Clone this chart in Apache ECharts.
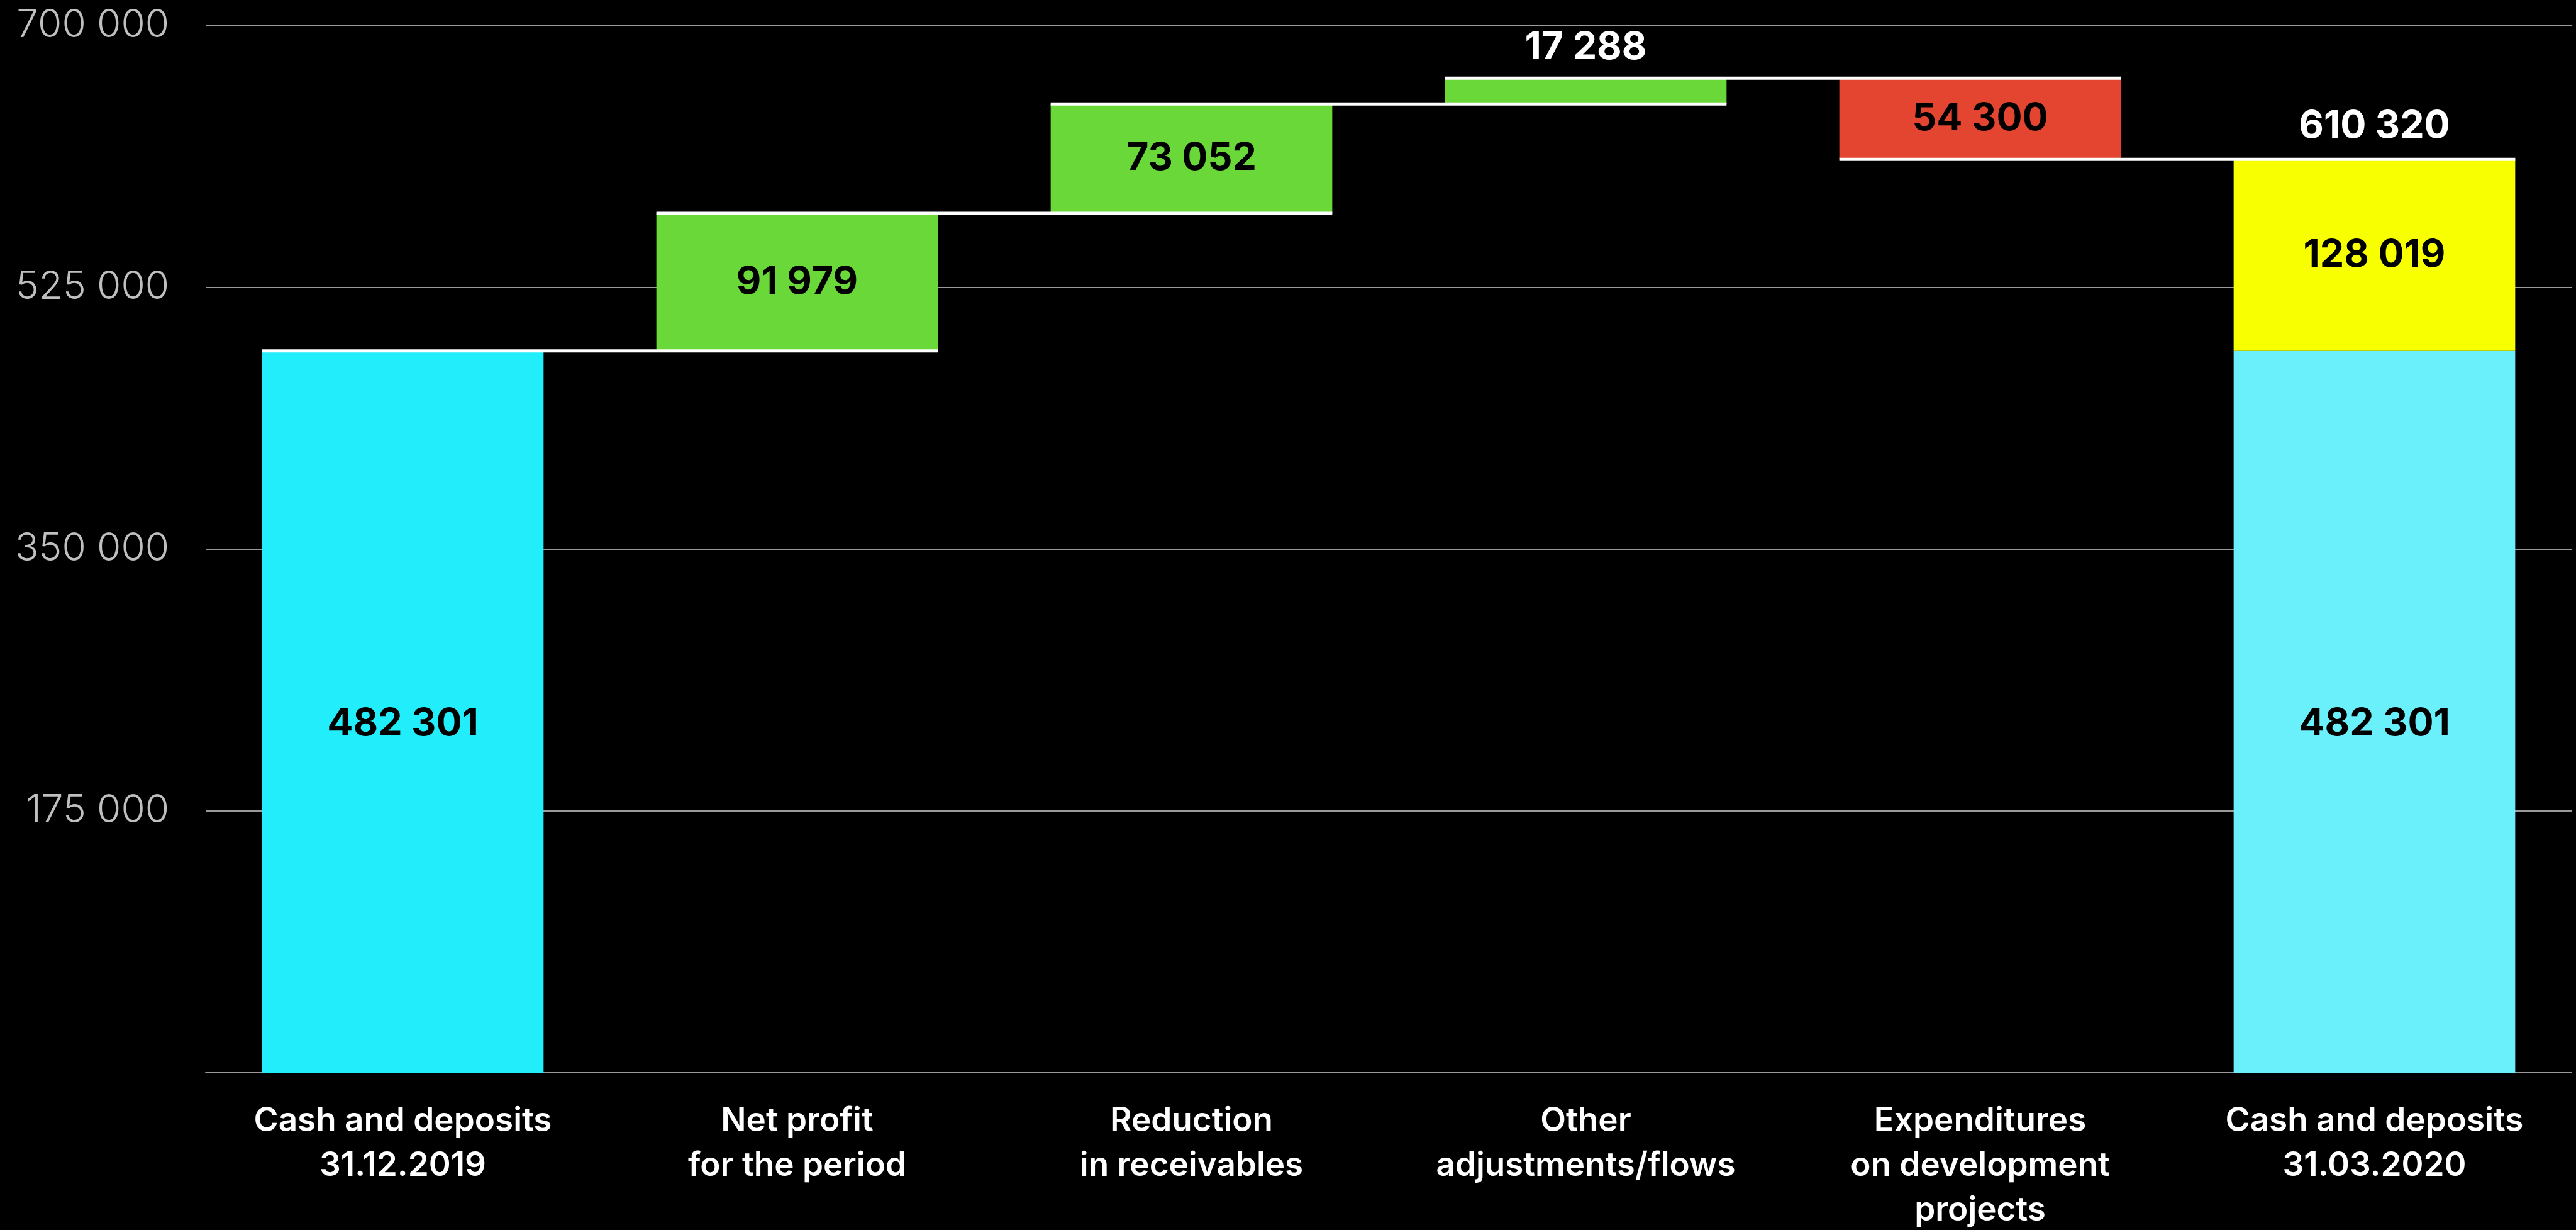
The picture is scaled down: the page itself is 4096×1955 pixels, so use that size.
<!DOCTYPE html>
<html>
<head>
<meta charset="utf-8">
<title>Cash and deposits bridge</title>
<script src="https://cdn.jsdelivr.net/npm/echarts@6/dist/echarts.min.js"></script>
<style>
  html, body { margin: 0; padding: 0; background: #000; }
  #chart { width: 4096px; height: 1955px; }
</style>
</head>
<body>
<div id="chart"></div>
<script>
// Category labels along the bottom axis
const categories = [
  'Cash and deposits\n31.12.2019',
  'Net profit\nfor the period',
  'Reduction\nin receivables',
  'Other\nadjustments/flows',
  'Expenditures\non development\nprojects',
  'Cash and deposits\n31.03.2020'
];

// Opening balance and the movements that follow it
const openingBalance = 482301;
const movements = [91979, 73052, 17288, -54300];

// Closing balance, split into the opening part and the net change
const closingParts = [482301, 128019];
const closingTotal = 610320;

// Value axis ticks
const yTicks = [0, 175000, 350000, 525000, 700000];

const FONT = 'Inter';
const BAR_RATIO = 0.714;
const fmt = v => String(Math.round(Math.abs(v))).replace(/\B(?=(\d{3})+(?!\d))/g, ' ');

// Running totals -> invisible offsets, rises and falls
const n = categories.length;
const helper = new Array(n).fill('-');
const opening = new Array(n).fill('-');
const rises = new Array(n).fill('-');
const falls = new Array(n).fill('-');
const closeBase = new Array(n).fill('-');
const closeDelta = new Array(n).fill('-');
const levels = []; // [category index, running total] for connector lines

let running = openingBalance;
helper[0] = 0;
opening[0] = openingBalance;
levels.push([0, running]);
movements.forEach((m, k) => {
  const i = k + 1;
  if (m >= 0) {
    helper[i] = running;
    rises[i] = m;
  } else {
    helper[i] = running + m;
    falls[i] = -m;
  }
  running += m;
  levels.push([i, running]);
});
helper[n - 1] = 0;
closeBase[n - 1] = closingParts[0];
closeDelta[n - 1] = closingParts[1];

const insideLabel = {
  show: true,
  position: 'inside',
  color: '#000',
  fontFamily: FONT,
  fontWeight: 700,
  fontSize: 61,
  formatter: p => fmt(p.value)
};
// Balance bars carry their label a little below the middle
const balanceLabel = Object.assign({}, insideLabel, { offset: [0, 19] });

// Small rise gets its label above the bar
const risesData = rises.map((v, i) => {
  if (v !== '-' && v < 40000) {
    return {
      value: v,
      label: { position: 'top', color: '#fff', distance: 18 }
    };
  }
  return v;
});

const chart = echarts.init(document.getElementById('chart'), null, { renderer: 'canvas' });

chart.setOption({
  backgroundColor: '#000',
  animation: false,
  grid: {
    left: 327,
    right: 7,
    top: 40,
    bottom: 250,
    containLabel: false,
    outerBoundsMode: 'none'
  },
  xAxis: {
    type: 'category',
    data: categories,
    axisLine: { show: true, lineStyle: { color: '#9a9a9a', width: 2 } },
    axisTick: { show: false },
    splitLine: { show: false },
    axisLabel: {
      interval: 0,
      color: '#fff',
      fontFamily: FONT,
      fontWeight: 600,
      fontSize: 53,
      lineHeight: 71,
      margin: 42
    }
  },
  yAxis: {
    type: 'value',
    min: yTicks[0],
    max: yTicks[yTicks.length - 1],
    interval: yTicks[1] - yTicks[0],
    axisLine: { show: false },
    axisTick: { show: false },
    splitLine: { show: true, lineStyle: { color: '#9a9a9a', width: 2 } },
    axisLabel: {
      color: '#bfbfbf',
      fontFamily: FONT,
      fontWeight: 300,
      fontSize: 62,
      margin: 58,
      formatter: v => (v === 0 ? '' : fmt(v))
    }
  },
  series: [
    {
      name: 'offset',
      type: 'bar',
      stack: 'wf',
      barWidth: (BAR_RATIO * 100) + '%',
      silent: true,
      itemStyle: { color: 'transparent' },
      data: helper
    },
    {
      name: 'opening',
      type: 'bar',
      stack: 'wf',
      itemStyle: { color: '#22eefb' },
      label: balanceLabel,
      data: opening
    },
    {
      name: 'rise',
      type: 'bar',
      stack: 'wf',
      itemStyle: { color: '#6ad838' },
      label: insideLabel,
      data: risesData
    },
    {
      name: 'fall',
      type: 'bar',
      stack: 'wf',
      itemStyle: { color: '#e34530' },
      label: insideLabel,
      data: falls
    },
    {
      name: 'closing base',
      type: 'bar',
      stack: 'wf',
      itemStyle: { color: '#6af0fb' },
      label: balanceLabel,
      data: closeBase
    },
    {
      name: 'closing change',
      type: 'bar',
      stack: 'wf',
      itemStyle: { color: '#f7ff00' },
      label: insideLabel,
      data: closeDelta
    },
    {
      // White connector from the left edge of one bar to the right edge of the next
      name: 'connectors',
      type: 'custom',
      z: 5,
      silent: true,
      data: levels.slice(0, n - 1),
      renderItem: (params, api) => {
        const i = api.value(0);
        const p = api.coord([i, api.value(1)]);
        const step = api.size([1, 0])[0];
        const half = step * BAR_RATIO / 2;
        return {
          type: 'line',
          shape: { x1: p[0] - half, y1: p[1], x2: p[0] + step + half, y2: p[1] },
          style: { stroke: '#fff', lineWidth: 5 }
        };
      }
    },
    {
      // Closing total shown above the last bar
      name: 'closing total',
      type: 'scatter',
      z: 6,
      silent: true,
      symbolSize: 1,
      itemStyle: { color: 'transparent', opacity: 1 },
      label: {
        show: true,
        position: 'top',
        distance: 22,
        color: '#ffffff',
        opacity: 1,
        fontFamily: FONT,
        fontWeight: 700,
        fontSize: 61,
        formatter: p => fmt(p.value[1])
      },
      data: [[n - 1, closingTotal]]
    }
  ]
});
</script>
</body>
</html>
